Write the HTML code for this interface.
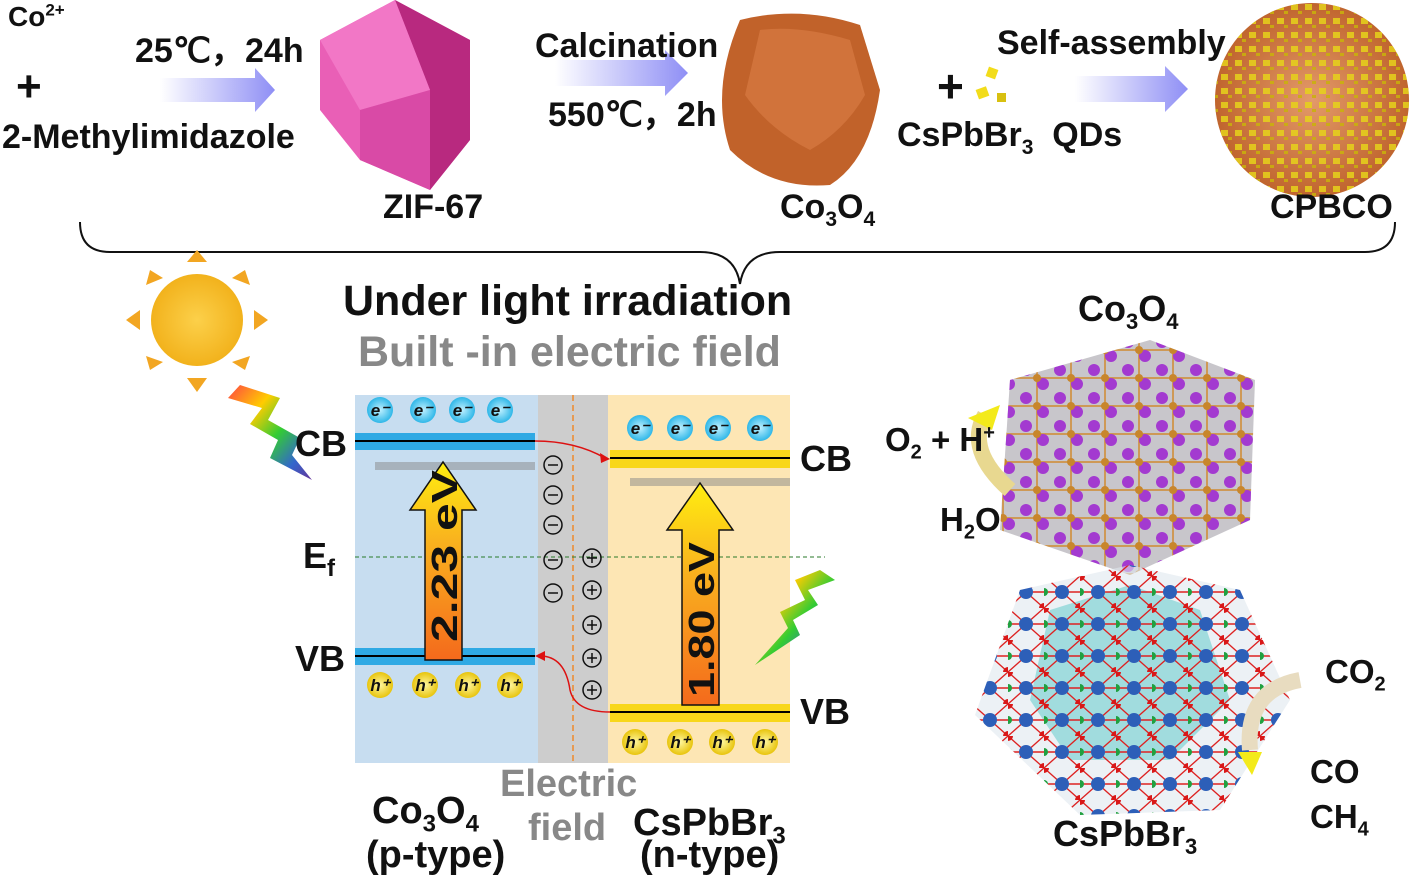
<!DOCTYPE html>
<html><head><meta charset="utf-8"><style>
html,body{margin:0;padding:0;background:#fff}
body{width:1419px;height:886px;position:relative;overflow:hidden;font-family:"Liberation Sans",Arial,sans-serif;font-weight:bold;color:#111}
.t{position:absolute;white-space:nowrap;line-height:1.15}
sub,sup{line-height:0}
</style></head><body>
<svg width="1419" height="886" style="position:absolute;left:0;top:0" xmlns="http://www.w3.org/2000/svg">
<defs>
<linearGradient id="ar" x1="0" x2="1"><stop offset="0" stop-color="#fff"/><stop offset="1" stop-color="#8f8ff5"/></linearGradient>
<linearGradient id="up" x1="0" y1="1" x2="0" y2="0"><stop offset="0" stop-color="#f46a1c"/><stop offset="0.6" stop-color="#f9b21e"/><stop offset="1" stop-color="#ffee10"/></linearGradient>
<radialGradient id="sun"><stop offset="0" stop-color="#fcd04a"/><stop offset="1" stop-color="#f2b21c"/></radialGradient>
<radialGradient id="eb"><stop offset="0" stop-color="#bff0ff"/><stop offset="1" stop-color="#2fb7e8"/></radialGradient>
<radialGradient id="hb"><stop offset="0" stop-color="#fff7a0"/><stop offset="1" stop-color="#e8c40c"/></radialGradient>
<linearGradient id="bolt" x1="0" y1="0" x2="1" y2="1"><stop offset="0" stop-color="#f44"/><stop offset="0.3" stop-color="#fc0"/><stop offset="0.55" stop-color="#3c3"/><stop offset="0.8" stop-color="#36c"/><stop offset="1" stop-color="#639"/></linearGradient>
<radialGradient id="cpb"><stop offset="0" stop-color="#e39a6a"/><stop offset="1" stop-color="#c0652e"/></radialGradient>
<pattern id="pq" width="14" height="14" patternUnits="userSpaceOnUse"><rect x="3" y="4" width="7" height="6" fill="#e6d21a"/><rect x="10" y="11" width="4" height="3" fill="#c9b20a"/></pattern>
<pattern id="pp" width="34" height="28" patternUnits="userSpaceOnUse"><path d="M0 14H34M17 0V28" stroke="#d08a30" stroke-width="1.5"/><circle cx="6" cy="6" r="6" fill="#a33ad0"/><circle cx="23" cy="20" r="6" fill="#a33ad0"/><circle cx="17" cy="14" r="4" fill="#c8862c"/></pattern>
<pattern id="pb" width="36" height="32" patternUnits="userSpaceOnUse"><path d="M0 0L36 32M36 0L0 32M0 16H36" stroke="#d22" stroke-width="1.4"/><circle cx="18" cy="16" r="7" fill="#2d5fb8"/><circle cx="0" cy="0" r="5" fill="#d91818"/><circle cx="36" cy="32" r="5" fill="#d91818"/><circle cx="0" cy="16" r="4" fill="#20a040"/></pattern>
</defs>
<polygon points="160,78 255,78 255,68 275,90 255,112 255,102 160,102" fill="url(#ar)"/>
<polygon points="555,60 665,60 665,50 688,73 665,96 665,86 555,86" fill="url(#ar)"/>
<polygon points="1075,76 1165,76 1165,66 1188,89 1165,112 1165,102 1075,102" fill="url(#ar)"/>
<polygon points="395,0 470,40 470,140 430,190 360,160 320,110 320,40" fill="#e95fb6"/>
<polygon points="395,0 470,40 470,140 430,190 430,90" fill="#b8297f"/>
<polygon points="320,40 395,0 430,90 360,110" fill="#f277c6"/>
<polygon points="360,110 430,90 430,190 360,160" fill="#d94aa6"/>
<path d="M740,20 Q800,5 860,25 L880,90 Q870,160 830,185 Q770,190 730,150 Q710,90 740,20Z" fill="#c1622a"/>
<path d="M760,30 Q800,25 850,40 L865,95 Q845,130 810,150 Q770,130 745,95Z" fill="#d77a43" opacity="0.7"/>
<rect x="987" y="68" width="10" height="10" fill="#f2dc1a" transform="rotate(20 992 73)"/>
<rect x="977" y="88" width="11" height="10" fill="#f2dc1a" transform="rotate(-20 982 93)"/>
<rect x="997" y="93" width="9" height="9" fill="#d8c010"/>
<circle cx="1312" cy="100" r="97" fill="url(#cpb)"/>
<circle cx="1312" cy="100" r="97" fill="url(#pq)" opacity="0.85"/>
<path d="M80,222 Q80,252 110,252 L700,252 Q735,252 740,284 Q745,252 780,252 L1365,252 Q1395,252 1395,222" fill="none" stroke="#111" stroke-width="2"/>
<circle cx="197" cy="320" r="46" fill="url(#sun)"/>
<g fill="#f2a622">
<polygon points="187,262 207,262 197,250"/><polygon points="187,378 207,378 197,392"/>
<polygon points="140,310 140,330 126,320"/><polygon points="254,310 254,330 268,320"/>
<polygon points="150,270 163,278 146,285"/><polygon points="245,270 232,278 250,285"/>
<polygon points="150,370 163,362 146,356"/><polygon points="245,370 232,362 250,356"/>
</g>
<polygon points="240,385 280,398 268,420 300,438 292,455 312,480 270,458 278,440 250,424 262,408 228,398" fill="url(#bolt)"/>
<rect x="355" y="395" width="183" height="368" fill="#c7ddf0"/>
<rect x="538" y="395" width="70" height="368" fill="#cdcdcd"/>
<rect x="608" y="395" width="182" height="368" fill="#fde6b4"/>
<line x1="573" y1="395" x2="573" y2="763" stroke="#f08a2a" stroke-width="1.5" stroke-dasharray="6,4"/>
<polygon points="820,570 795,580 805,600 780,612 788,628 755,665 800,635 793,620 818,605 808,590 835,580" fill="url(#bolt)"/>
<rect x="355" y="433" width="180" height="17" fill="#2fa9e4"/><line x1="355" y1="441" x2="535" y2="441" stroke="#000" stroke-width="2"/>
<rect x="355" y="648" width="180" height="17" fill="#2fa9e4"/><line x1="355" y1="656" x2="535" y2="656" stroke="#000" stroke-width="2"/>
<rect x="610" y="450" width="180" height="18" fill="#f8d71a"/><line x1="610" y1="458" x2="790" y2="458" stroke="#000" stroke-width="2"/>
<rect x="610" y="704" width="180" height="18" fill="#f8d71a"/><line x1="610" y1="712" x2="790" y2="712" stroke="#000" stroke-width="2"/>
<rect x="375" y="462" width="160" height="8" fill="#888" opacity="0.5"/>
<rect x="630" y="478" width="160" height="8" fill="#888" opacity="0.5"/>
<line x1="355" y1="557" x2="825" y2="557" stroke="#2a7a2a" stroke-dasharray="4,3" stroke-width="1"/>
<path d="M535,441 Q575,441 605,458" fill="none" stroke="#d11" stroke-width="1.5"/><polygon points="610,459 600,453 601,463" fill="#d11"/>
<path d="M610,712 Q575,712 570,690 Q565,656 540,656" fill="none" stroke="#d11" stroke-width="1.5"/><polygon points="535,656 545,651 545,661" fill="#d11"/>
<polygon points="425,660 462,660 462,510 476,510 443,462 410,510 425,510" fill="url(#up)" stroke="#111" stroke-width="1.5"/>
<polygon points="682,705 719,705 719,530 733,530 700,483 667,530 682,530" fill="url(#up)" stroke="#111" stroke-width="1.5"/>
<text transform="translate(457,642) rotate(-90)" font-size="36" font-weight="bold" font-family="Liberation Sans" fill="#111" textLength="172" lengthAdjust="spacingAndGlyphs">2.23 eV</text>
<text transform="translate(714,697) rotate(-90)" font-size="36" font-weight="bold" font-family="Liberation Sans" fill="#111" textLength="155" lengthAdjust="spacingAndGlyphs">1.80 eV</text>
<g font-family="Liberation Sans" font-style="italic" font-weight="bold" font-size="17" fill="#111" text-anchor="middle">
<circle cx="380" cy="410" r="13" fill="url(#eb)"/><text x="380" y="416">e⁻</text>
<circle cx="423" cy="410" r="13" fill="url(#eb)"/><text x="423" y="416">e⁻</text>
<circle cx="462" cy="410" r="13" fill="url(#eb)"/><text x="462" y="416">e⁻</text>
<circle cx="500" cy="410" r="13" fill="url(#eb)"/><text x="500" y="416">e⁻</text>
<circle cx="640" cy="428" r="13" fill="url(#eb)"/><text x="640" y="434">e⁻</text>
<circle cx="680" cy="428" r="13" fill="url(#eb)"/><text x="680" y="434">e⁻</text>
<circle cx="718" cy="428" r="13" fill="url(#eb)"/><text x="718" y="434">e⁻</text>
<circle cx="760" cy="428" r="13" fill="url(#eb)"/><text x="760" y="434">e⁻</text>
<circle cx="380" cy="685" r="13" fill="url(#hb)"/><text x="380" y="691">h⁺</text>
<circle cx="425" cy="685" r="13" fill="url(#hb)"/><text x="425" y="691">h⁺</text>
<circle cx="468" cy="685" r="13" fill="url(#hb)"/><text x="468" y="691">h⁺</text>
<circle cx="510" cy="685" r="13" fill="url(#hb)"/><text x="510" y="691">h⁺</text>
<circle cx="635" cy="742" r="13" fill="url(#hb)"/><text x="635" y="748">h⁺</text>
<circle cx="680" cy="742" r="13" fill="url(#hb)"/><text x="680" y="748">h⁺</text>
<circle cx="722" cy="742" r="13" fill="url(#hb)"/><text x="722" y="748">h⁺</text>
<circle cx="765" cy="742" r="13" fill="url(#hb)"/><text x="765" y="748">h⁺</text>
</g>
<g fill="none" stroke="#111" stroke-width="1.5">
<circle cx="553" cy="465" r="9"/><circle cx="553" cy="495" r="9"/><circle cx="553" cy="525" r="9"/><circle cx="553" cy="560" r="9"/><circle cx="553" cy="593" r="9"/>
<path d="M548,465h10M548,495h10M548,525h10M548,560h10M548,593h10"/>
<circle cx="592" cy="558" r="9"/><circle cx="592" cy="590" r="9"/><circle cx="592" cy="625" r="9"/><circle cx="592" cy="658" r="9"/><circle cx="592" cy="690" r="9"/>
<path d="M587,558h10M592,553v10M587,590h10M592,585v10M587,625h10M592,620v10M587,658h10M592,653v10M587,690h10M592,685v10"/>
</g>
<polygon points="1010,380 1150,340 1255,380 1250,520 1130,575 1000,530" fill="#9a98a0" opacity="0.55"/>
<polygon points="1010,380 1150,340 1255,380 1250,520 1130,575 1000,530" fill="url(#pp)"/>
<polygon points="1020,590 1130,565 1240,590 1290,700 1220,810 1080,815 975,715" fill="#dfe8ef" opacity="0.6"/>
<polygon points="1050,610 1130,585 1200,610 1230,700 1170,760 1070,760 1030,700" fill="#46c4c4" opacity="0.45"/>
<polygon points="1020,590 1130,565 1240,590 1290,700 1220,810 1080,815 975,715" fill="url(#pb)"/>
<path d="M1010,490 Q965,450 985,415" fill="none" stroke="#e8d890" stroke-width="16"/>
<polygon points="968,418 1000,405 992,430" fill="#f3ea1a"/>
<path d="M1300,680 Q1245,690 1250,750" fill="none" stroke="#e8dcc0" stroke-width="16"/>
<polygon points="1238,752 1262,752 1252,775" fill="#f3ea1a"/>
</svg>
<div class="t" style="left:8px;top:1px;font-size:28px">Co<sup style="font-size:17px">2+</sup></div>
<div class="t" style="left:16px;top:62px;font-size:44px">+</div>
<div class="t" style="left:2px;top:118px;font-size:34px">2-Methylimidazole</div>
<div class="t" style="left:135px;top:32px;font-size:34px">25℃，24h</div>
<div class="t" style="left:383px;top:188px;font-size:34px">ZIF-67</div>
<div class="t" style="left:535px;top:27px;font-size:34px">Calcination</div>
<div class="t" style="left:548px;top:96px;font-size:34px">550℃，2h</div>
<div class="t" style="left:780px;top:188px;font-size:34px">Co<sub style="font-size:21px">3</sub>O<sub style="font-size:21px">4</sub></div>
<div class="t" style="left:937px;top:60px;font-size:46px">+</div>
<div class="t" style="left:897px;top:116px;font-size:34px">CsPbBr<sub style="font-size:21px">3</sub>&nbsp; QDs</div>
<div class="t" style="left:997px;top:24px;font-size:34px">Self-assembly</div>
<div class="t" style="left:1270px;top:188px;font-size:34px">CPBCO</div>
<div class="t" style="left:343px;top:277px;font-size:43px">Under light irradiation</div>
<div class="t" style="left:358px;top:328px;font-size:43px;color:#888">Built -in electric field</div>
<div class="t" style="left:295px;top:423px;font-size:36px">CB</div>
<div class="t" style="left:303px;top:535px;font-size:36px">E<sub style="font-size:24px">f</sub></div>
<div class="t" style="left:295px;top:638px;font-size:36px">VB</div>
<div class="t" style="left:800px;top:438px;font-size:36px">CB</div>
<div class="t" style="left:800px;top:691px;font-size:36px">VB</div>
<div class="t" style="left:372px;top:790px;font-size:38px">Co<sub style="font-size:24px">3</sub>O<sub style="font-size:24px">4</sub></div>
<div class="t" style="left:366px;top:834px;font-size:38px">(p-type)</div>
<div class="t" style="left:500px;top:763px;font-size:38px;color:#888">Electric</div>
<div class="t" style="left:528px;top:807px;font-size:38px;color:#888">field</div>
<div class="t" style="left:633px;top:802px;font-size:38px">CsPbBr<sub style="font-size:24px">3</sub></div>
<div class="t" style="left:640px;top:834px;font-size:38px">(n-type)</div>
<div class="t" style="left:1078px;top:288px;font-size:36px">Co<sub style="font-size:22px">3</sub>O<sub style="font-size:22px">4</sub></div>
<div class="t" style="left:885px;top:421px;font-size:33px">O<sub style="font-size:20px">2</sub> + H<sup style="font-size:20px">+</sup></div>
<div class="t" style="left:940px;top:501px;font-size:33px">H<sub style="font-size:20px">2</sub>O</div>
<div class="t" style="left:1325px;top:653px;font-size:33px">CO<sub style="font-size:20px">2</sub></div>
<div class="t" style="left:1310px;top:753px;font-size:33px">CO</div>
<div class="t" style="left:1310px;top:798px;font-size:33px">CH<sub style="font-size:20px">4</sub></div>
<div class="t" style="left:1053px;top:813px;font-size:36px">CsPbBr<sub style="font-size:22px">3</sub></div>
</body></html>
